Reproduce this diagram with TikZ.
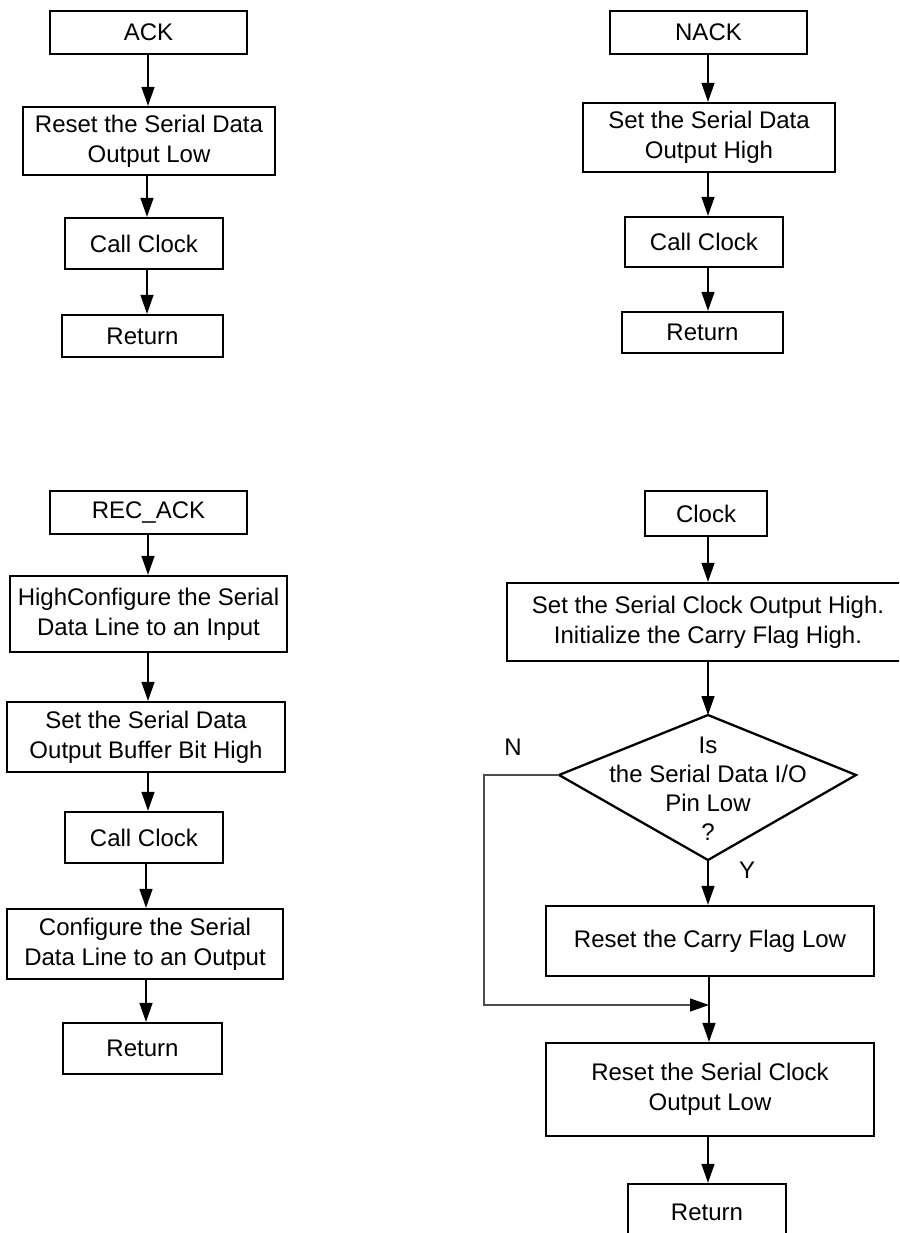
\documentclass[tikz,border=0pt]{standalone}
\usepackage{fontspec}
\setmainfont{Liberation Sans}
\usetikzlibrary{arrows.meta}
\begin{document}
\begin{tikzpicture}[x=1pt,y=-1pt,
  font=\fontsize{24}{30}\selectfont,
  procbox/.style={draw=black, line width=2.3pt, align=center, inner sep=0pt,
    minimum width=#1, fill=white},
  arr/.style={line width=1.3pt, -{Triangle[length=19pt,width=13pt]}},
  backline/.style={line width=1.3pt, draw=black!70},
  lbl/.style={inner sep=0pt}]
\useasboundingbox (0,0) rectangle (899,1233);
\clip (0,0) rectangle (899,1233);

% ---------- ACK ----------
\node[procbox=197pt, minimum height=43pt] (ack) at (148.5,32.5) {ACK};
\node[procbox=252pt, minimum height=68pt] (ackreset) at (149,141) {Reset the Serial Data\\Output Low};
\node[procbox=158pt, minimum height=51pt] (ackcall) at (144,243.5) {Call Clock};
\node[procbox=161pt, minimum height=42pt] (ackret) at (142.5,336) {Return};
\coordinate (ax) at (148,0);
\coordinate (ax2) at (147,0);
\draw[arr] (ax |- ack.south) -- (ax |- ackreset.north);
\draw[arr] (ax2 |- ackreset.south) -- (ax2 |- ackcall.north);
\draw[arr] (ax2 |- ackcall.south) -- (ax2 |- ackret.north);

% ---------- NACK ----------
\node[procbox=197pt, minimum height=43pt] (nack) at (708.5,32.5) {NACK};
\node[procbox=252pt, minimum height=69pt] (nackset) at (709,137.5) {Set the Serial Data\\Output High};
\node[procbox=158pt, minimum height=50pt] (nackcall) at (704,242) {Call Clock};
\node[procbox=161pt, minimum height=41pt] (nackret) at (702.5,332.5) {Return};
\coordinate (nx) at (708,0);
\draw[arr] (nx |- nack.south) -- (nx |- nackset.north);
\draw[arr] (nx |- nackset.south) -- (nx |- nackcall.north);
\draw[arr] (nx |- nackcall.south) -- (nx |- nackret.north);

% ---------- REC_ACK ----------
\node[procbox=197pt, minimum height=43pt] (rack) at (148.5,512.5) {REC\_ACK};
\node[procbox=277pt, minimum height=76pt] (rcfgin) at (148.5,614) {HighConfigure the Serial\\Data Line to an Input};
\node[procbox=278pt, minimum height=70pt] (rbuf) at (146,737) {Set the Serial Data\\Output Buffer Bit High};
\node[procbox=158pt, minimum height=51pt] (rcall) at (144,837.5) {Call Clock};
\node[procbox=276pt, minimum height=70pt] (rcfgout) at (145,944) {Configure the Serial\\Data Line to an Output};
\node[procbox=159pt, minimum height=51pt] (rret) at (142.5,1048.5) {Return};
\coordinate (rx) at (148,0);
\coordinate (rx2) at (146,0);
\draw[arr] (rx |- rack.south) -- (rx |- rcfgin.north);
\draw[arr] (rx |- rcfgin.south) -- (rx |- rbuf.north);
\draw[arr] (rx |- rbuf.south) -- (rx |- rcall.north);
\draw[arr] (rx2 |- rcall.south) -- (rx2 |- rcfgout.north);
\draw[arr] (rx2 |- rcfgout.south) -- (rx2 |- rret.north);

% ---------- Clock ----------
\node[procbox=122pt, minimum height=45pt] (clk) at (706,513.5) {Clock};
\node[procbox=402pt, minimum height=78pt] (cset) at (708,622) {Set the Serial Clock Output High.\\Initialize the Carry Flag High.};

% decision: corners of the diamond
\coordinate (dtop) at (708,715);
\coordinate (dright) at (856,775);
\coordinate (dbot) at (708,860);
\coordinate (dleft) at (559,775);
\draw[line width=2.3pt, line join=miter] (dtop) -- (dright) -- (dbot) -- (dleft) -- cycle;
\node[lbl, align=center, font=\fontsize{24}{29}\selectfont] (dec) at (708,789) {Is\\the Serial Data I/O\\Pin Low\\?};
\node[lbl] (nlbl) at (513,747) {N};
\node[lbl] (ylbl) at (747,870) {Y};

\node[procbox=328pt, minimum height=70pt] (ccar) at (710,941) {Reset the Carry Flag Low};
\node[procbox=328pt, minimum height=93pt] (cclk) at (710,1089.5) {Reset the Serial Clock\\Output Low};
\node[procbox=158pt, minimum height=56pt] (cret) at (707,1212) {Return};

\coordinate (cx) at (708,0);
\coordinate (cx2) at (709,0);
\coordinate (nleft) at (484,775);
\coordinate (nbot) at (484,1005);
\coordinate (merge) at (709,1005);

\draw[arr] (cx |- clk.south) -- (cx |- cset.north);
\draw[arr] (cx |- cset.south) -- (dtop);
\draw[arr] (dbot) -- (cx |- ccar.north);
\draw[arr] (cx2 |- ccar.south) -- (cx2 |- cclk.north);
\draw[backline, -{Triangle[length=19pt,width=13pt,fill=black,color=black]}] (dleft) -- (nleft) -- (nbot) -- (merge);
\draw[arr] (cx |- cclk.south) -- (cx |- cret.north);
\end{tikzpicture}
\end{document}
